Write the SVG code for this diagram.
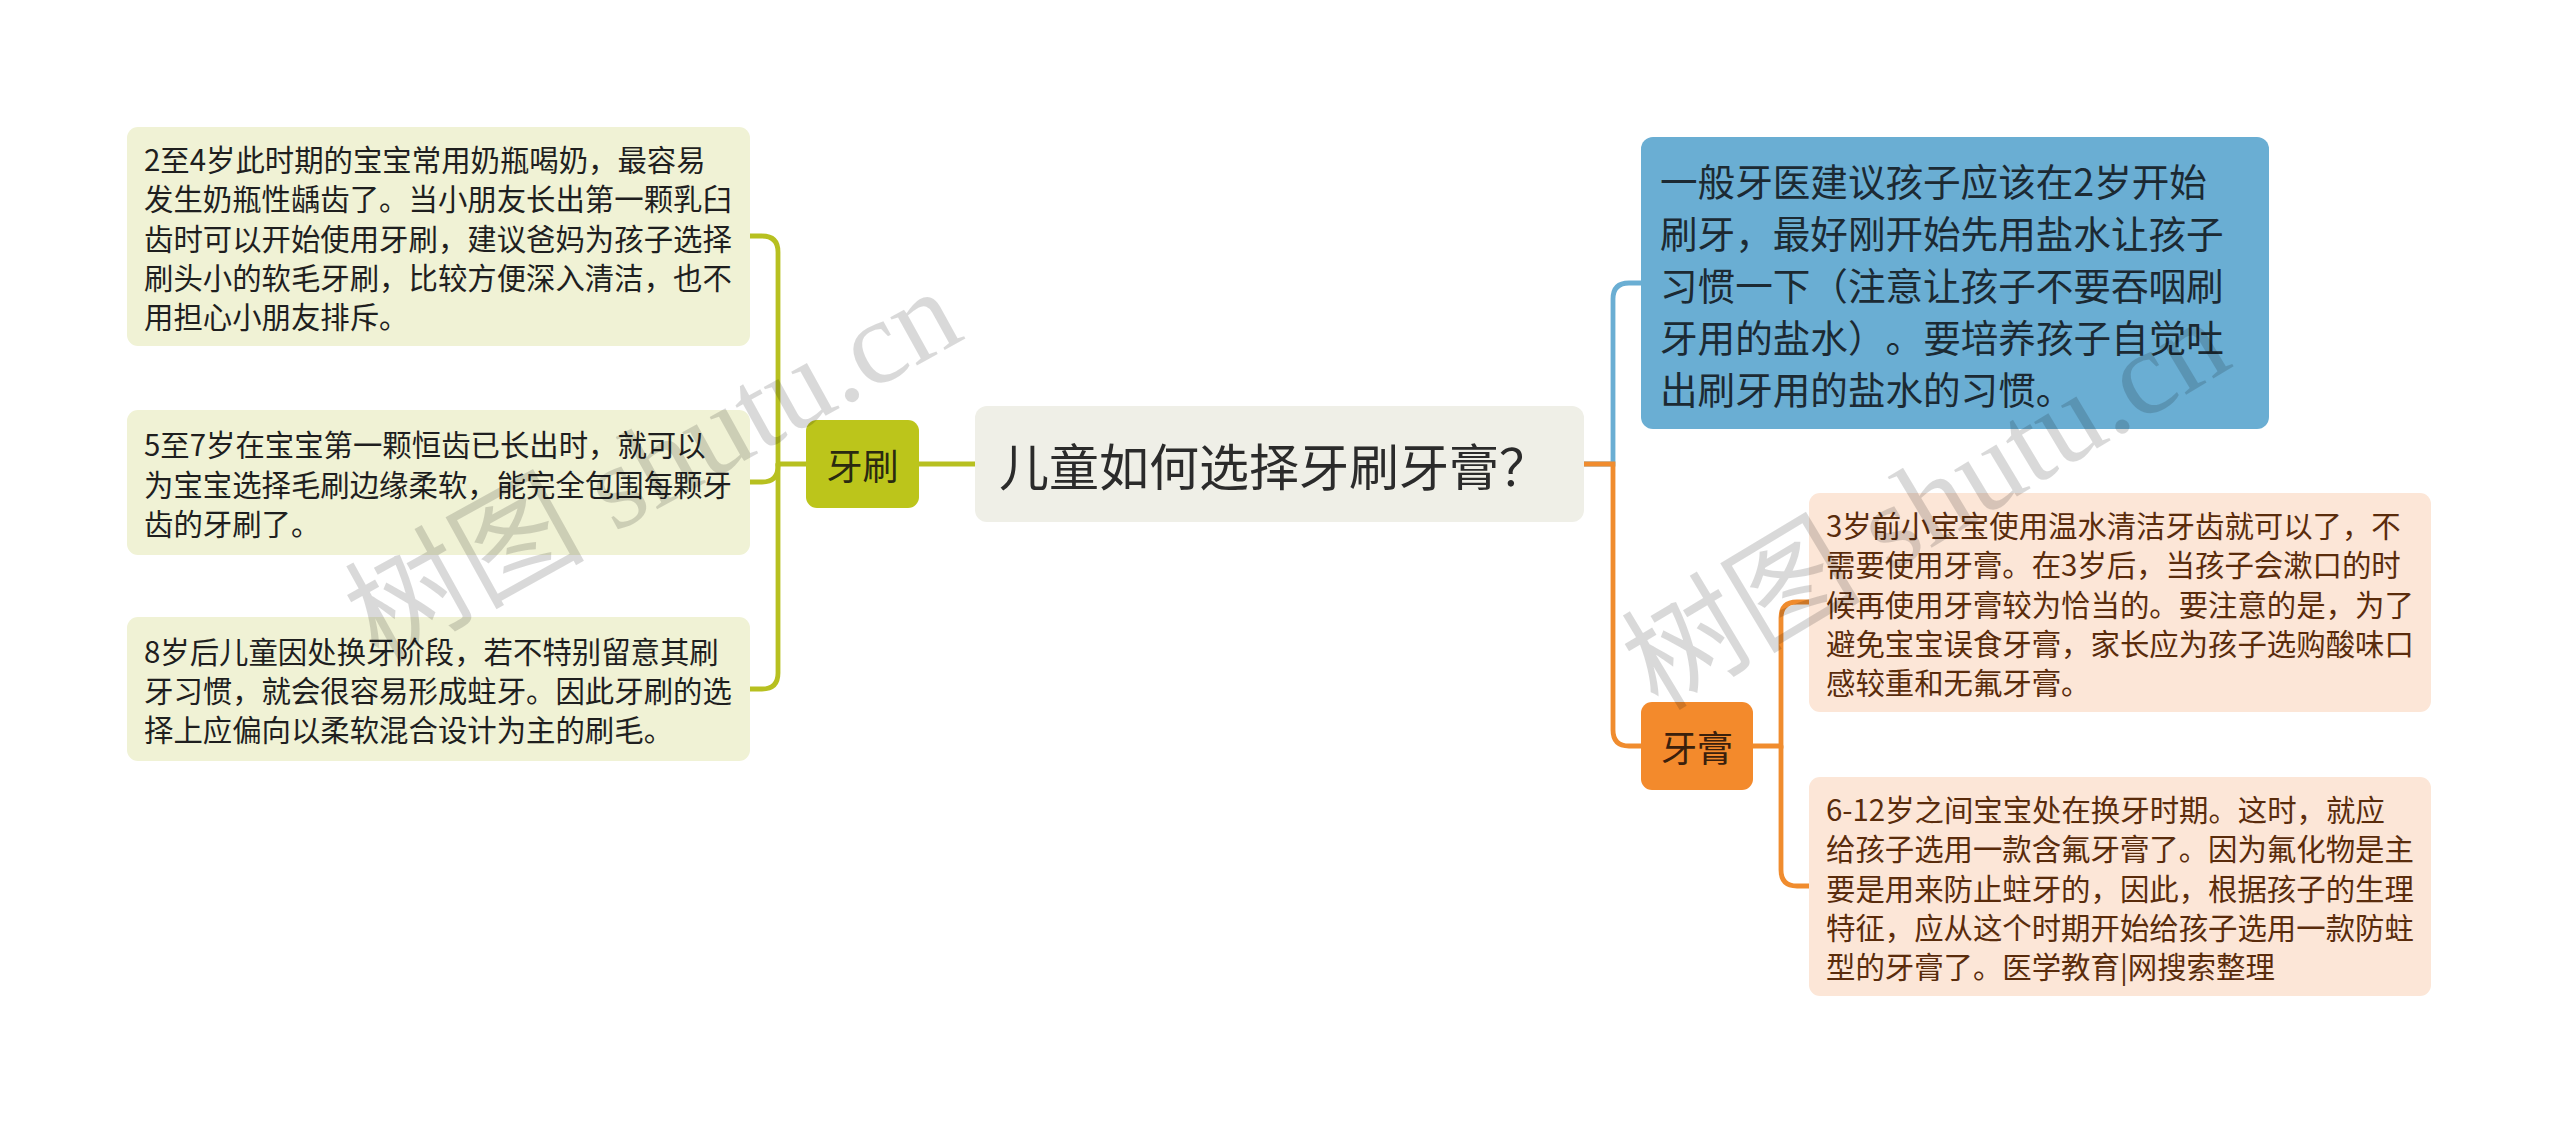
<svg xmlns="http://www.w3.org/2000/svg" width="2560" height="1125" viewBox="0 0 2560 1125">
<style>
text{font-family:"Noto Sans CJK SC","Noto Sans",sans-serif;dominant-baseline:central}
.leaf{fill:#F0F2D5}
.leaft{font-size:29.4px;fill:#1f1f1f}
.peach{fill:#FCE6D7}
.peacht{font-size:29.4px;fill:#5a2c0c}
.c{fill:none;stroke-width:4.8;stroke-linecap:round}
.olive{stroke:#B7C020}
.blue{stroke:#6AAED3}
.orange{stroke:#F08C2E}
.wm{font-family:"Liberation Serif","Noto Sans CJK SC",serif;font-size:120px;fill:#000;fill-opacity:0.15;dominant-baseline:auto}
</style>
<rect width="2560" height="1125" fill="#fff"/>
<g id="connectors">
<path class="c olive" d="M975 464 H919"/>
<path class="c olive" d="M806 464 H778 V252 Q778 236 762 236 H750"/>
<path class="c olive" d="M778 464 V466 Q778 482 762 482 H750"/>
<path class="c olive" d="M778 464 V673 Q778 689 762 689 H750"/>
<path class="c blue" d="M1584 464 H1613 V299 Q1613 283 1629 283 H1641"/>
<path class="c orange" d="M1584 464 H1613 V730 Q1613 746 1629 746 H1641"/>
<path class="c orange" d="M1753 746 H1781 V618 Q1781 602 1797 602 H1809"/>
<path class="c orange" d="M1781 746 V870 Q1781 886 1797 886 H1809"/>
</g>
<g id="root">
<rect x="975" y="406" width="609" height="116" rx="12" fill="#EFEFE7"/>
<text x="999" y="464" font-size="50" fill="#2b2b2b">儿童如何选择牙刷牙膏？</text>
</g>
<g id="toothbrush">
<rect x="806" y="420" width="113" height="88" rx="11" fill="#BCC51B"/>
<text x="862.5" y="464" font-size="36" fill="#2a2a10" text-anchor="middle">牙刷</text>
</g>
<g id="tb1">
<rect class="leaf" x="127" y="127" width="623" height="219" rx="11"/>
<text class="leaft"><tspan x="144" y="158.1">2至4岁此时期的宝宝常用奶瓶喝奶，最容易</tspan><tspan x="144" y="197.3">发生奶瓶性龋齿了。当小朋友长出第一颗乳臼</tspan><tspan x="144" y="236.5">齿时可以开始使用牙刷，建议爸妈为孩子选择</tspan><tspan x="144" y="275.7">刷头小的软毛牙刷，比较方便深入清洁，也不</tspan><tspan x="144" y="314.9">用担心小朋友排斥。</tspan></text>
</g>
<g id="tb2">
<rect class="leaf" x="127" y="410" width="623" height="145" rx="11"/>
<text class="leaft"><tspan x="144" y="443.3">5至7岁在宝宝第一颗恒齿已长出时，就可以</tspan><tspan x="144" y="482.5">为宝宝选择毛刷边缘柔软，能完全包围每颗牙</tspan><tspan x="144" y="521.7">齿的牙刷了。</tspan></text>
</g>
<g id="tb3">
<rect class="leaf" x="127" y="617" width="623" height="144" rx="11"/>
<text class="leaft"><tspan x="144" y="649.8">8岁后儿童因处换牙阶段，若不特别留意其刷</tspan><tspan x="144" y="689">牙习惯，就会很容易形成蛀牙。因此牙刷的选</tspan><tspan x="144" y="728.2">择上应偏向以柔软混合设计为主的刷毛。</tspan></text>
</g>
<g id="advice">
<rect x="1641" y="137" width="628" height="292" rx="12" fill="#6AAED3"/>
<text font-size="37.6" fill="#1c2a33"><tspan x="1660" y="179">一般牙医建议孩子应该在2岁开始</tspan><tspan x="1660" y="231">刷牙，最好刚开始先用盐水让孩子</tspan><tspan x="1660" y="283">习惯一下（注意让孩子不要吞咽刷</tspan><tspan x="1660" y="335">牙用的盐水）</tspan><tspan x="1885.6" y="335">。要培养孩子自觉吐</tspan><tspan x="1660" y="387">出刷牙用的盐水的习惯。</tspan></text>
</g>
<g id="toothpaste">
<rect x="1641" y="702" width="112" height="88" rx="11" fill="#F38A2C"/>
<text x="1697" y="746" font-size="36" fill="#3a200c" text-anchor="middle">牙膏</text>
</g>
<g id="tp1">
<rect class="peach" x="1809" y="493" width="622" height="219" rx="11"/>
<text class="peacht"><tspan x="1826" y="524.1">3岁前小宝宝使用温水清洁牙齿就可以了，不</tspan><tspan x="1826" y="563.3">需要使用牙膏。在3岁后，当孩子会漱口的时</tspan><tspan x="1826" y="602.5">候再使用牙膏较为恰当的。要注意的是，为了</tspan><tspan x="1826" y="641.7">避免宝宝误食牙膏，家长应为孩子选购酸味口</tspan><tspan x="1826" y="680.9">感较重和无氟牙膏。</tspan></text>
</g>
<g id="tp2">
<rect class="peach" x="1809" y="777" width="622" height="219" rx="11"/>
<text class="peacht"><tspan x="1826" y="808.1">6-12岁之间宝宝处在换牙时期。这时，就应</tspan><tspan x="1826" y="847.3">给孩子选用一款含氟牙膏了。因为氟化物是主</tspan><tspan x="1826" y="886.5">要是用来防止蛀牙的，因此，根据孩子的生理</tspan><tspan x="1826" y="925.7">特征，应从这个时期开始给孩子选用一款防蛀</tspan><tspan x="1826" y="964.9">型的牙膏了。医学教育|网搜索整理</tspan></text>
</g>
<g id="watermark">
<text class="wm" transform="translate(378 664) rotate(-29)">树图 shutu.cn</text>
<text class="wm" transform="translate(1658 712) rotate(-31)">树图 shutu.cn</text>
</g>
</svg>
